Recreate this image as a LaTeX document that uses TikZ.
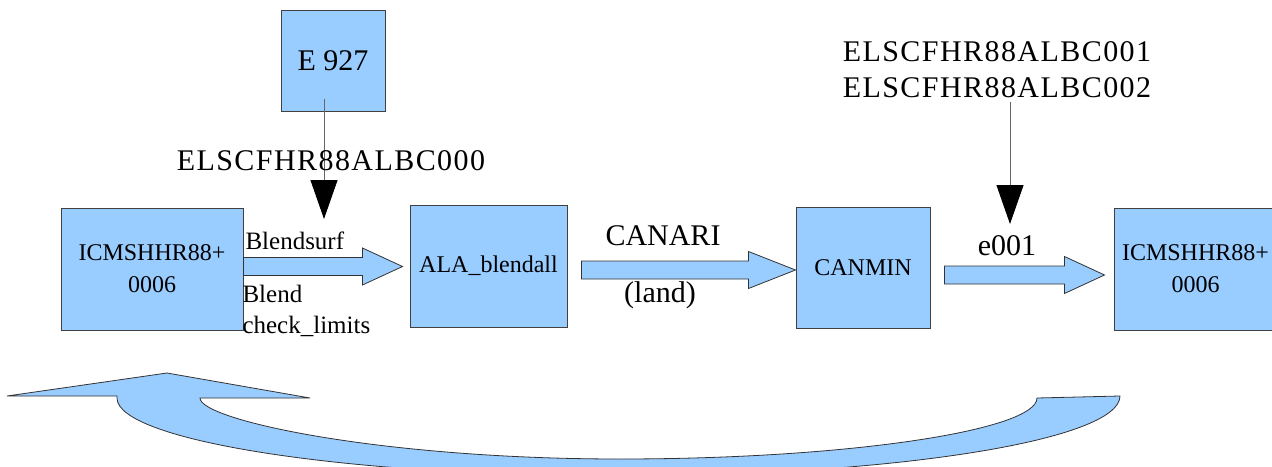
\documentclass[tikz,border=0pt]{standalone}
\usepackage{fontspec}
\setmainfont{Liberation Serif}
\usepackage{tikz}
\usetikzlibrary{arrows.meta,calc}

\definecolor{boxblue}{HTML}{99CCFF}

% fat block arrow: start, tip, head length
\newcommand{\fatarrow}[3]{%
  \filldraw[fat] let \p1=(#1), \p2=(#2) in
    (\x1,\y2+9pt) -- (\x2-#3,\y2+9pt) -- (\x2-#3,\y2+18.5pt) -- (\p2)
    -- (\x2-#3,\y2-18.5pt) -- (\x2-#3,\y2-9pt) -- (\x1,\y2-9pt) -- cycle;}

\begin{document}
\begin{tikzpicture}[x=1pt,y=-1pt,
  box/.style={draw=black!75,fill=boxblue,line width=1pt,inner sep=0pt,align=center,
    font=\fontsize{24}{32}\selectfont},
  fat/.style={draw=black!80,fill=boxblue,line width=0.8pt},
  thinarrow/.style={draw=black!60,line width=1pt,-{Triangle[length=39pt,width=27pt,black]}},
  biglbl/.style={font=\fontsize{30}{36}\selectfont,align=center},
  codelbl/.style={font=\fontsize{30}{36}\selectfont\addfontfeature{LetterSpace=4.8},align=center},
  smalllbl/.style={font=\fontsize{25}{31}\selectfont,align=left}]
  \useasboundingbox (0,0) rectangle (1272,466);

  % boxes
  \node[box,minimum width=182pt,minimum height=122pt] (icm1) at (152,269) {ICMSHHR88+\\0006};
  \node[box,minimum width=104pt,minimum height=101pt,font=\fontsize{30}{36}\selectfont] (e927) at (333,60.5) {E 927};
  \node[box,minimum width=157pt,minimum height=122pt] (ala) at (488.5,266) {ALA\_blendall};
  \node[box,minimum width=134pt,minimum height=121pt] (canmin) at (863,267.5) {CANMIN};
  \node[box,minimum width=163pt,minimum height=122pt] (icm2) at (1195.5,269) {ICMSHHR88+\\0006};

  % block arrows
  \fatarrow{icm1.east}{$(ala.west)+(-7,0.5)$}{40pt}
  \fatarrow{$(ala.east)+(14,0)$}{$(canmin.west)+(0,2.5)$}{47pt}
  \fatarrow{$(canmin.east)+(14,0)$}{$(icm2.west)+(-9,6)$}{40pt}

  \node[smalllbl,anchor=base west] (blsurf) at (242,249) {Blendsurf};
  \node[smalllbl,anchor=north west] (blchk) at (239,282) {Blend\\check\_limits};
  \node[biglbl,anchor=base] (canari) at (663,245) {CANARI};
  \node[biglbl,anchor=base] (land) at (660,302) {(land)};
  \node[biglbl,anchor=base] (e001) at (1007,255) {e001};

  % inputs from above
  \coordinate (tip1) at (324,219);
  \draw[thinarrow] ($(e927.south)+(-9,-13)$) -- (tip1)
    node[codelbl,midway,xshift=7pt,yshift=-2pt] (lbc0) {ELSCFHR88ALBC000};
  \node[codelbl] (lbc12) at (997,70) {ELSCFHR88ALBC001\\ELSCFHR88ALBC002};
  \coordinate (tip2) at (1010,224);
  \draw[thinarrow] (tip2 |- lbc12.south) -- (tip2);

  % return arrow
  \filldraw[fat] (117,396) -- (7,396) -- (167,373) -- (310,398) -- (200,398)
    .. controls (200,420) and (380,459) .. (620,459)
    .. controls (850,459) and (1037,430) .. (1037,398)
    -- (1120,396)
    .. controls (1120,440) and (895,476) .. (618,476)
    .. controls (341,476) and (117,440) .. (117,398) -- cycle;
\end{tikzpicture}
\end{document}
